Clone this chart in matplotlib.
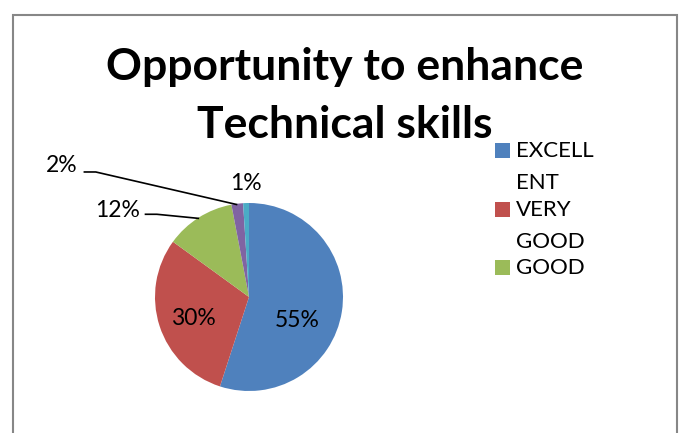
import numpy as np
import matplotlib.pyplot as plt
from matplotlib.patches import Rectangle

plt.rcParams['font.family'] = ['Lato', 'DejaVu Sans']

# data
categories = ['EXCELLENT', 'VERY GOOD', 'GOOD', 'AVERAGE', 'POOR']
percent = [55, 30, 12, 2, 1]
colors = ['#4F81BD', '#C0504D', '#9BBB59', '#8064A2', '#4BACC6']
legend_lines = [['EXCELL', 'ENT'], ['VERY', 'GOOD'], ['GOOD']]

W, H = 680, 433
fig = plt.figure(figsize=(W / 100, H / 100), dpi=100)

# outer chart border (bottom edge is cut off)
fig.patches.append(Rectangle((13 / W, -0.05), (677 - 13) / W, (H - 15) / H + 0.05,
                             transform=fig.transFigure, fill=False,
                             edgecolor='#878787', linewidth=1.5))

# pie axes, center (249, 297) px, radius 94 px
cx, cy, r = 249, 297, 94
ax = fig.add_axes([(cx - r) / W, (H - cy - r) / H, 2 * r / W, 2 * r / H])
wedges, _ = ax.pie(percent, colors=colors, startangle=90, counterclock=False,
                   radius=1, wedgeprops=dict(linewidth=0))
ax.set_xlim(-1, 1)
ax.set_ylim(-1, 1)
ax.set_aspect('equal')
ax.axis('off')

# data labels
fs = 16.5
ax.text(0.51, -0.25, f'{percent[0]}%', fontsize=fs, ha='center', va='center')
ax.text(-0.59, -0.23, f'{percent[1]}%', fontsize=fs, ha='center', va='center')
ax.text(-0.03, 1.21, f'{percent[4]}%', fontsize=fs, ha='center', va='center')

# labels with leader lines
for i, (tx, ty) in [(2, (-1.40, 0.92)), (3, (-1.99, 1.40))]:
    w = wedges[i]
    mid = np.deg2rad((w.theta1 + w.theta2) / 2)
    ex, ey = np.cos(mid) * 0.99, np.sin(mid) * 0.99
    ax.text(tx, ty, f'{percent[i]}%', fontsize=fs, ha='center', va='center')
    x0 = tx + 0.29 if i == 2 else tx + 0.23
    y0 = ty - 0.04 if i == 2 else ty - 0.07
    ax.plot([x0, x0 + 0.13, ex], [y0, y0, ey], color='black', lw=1.2,
            clip_on=False, solid_capstyle='butt')

# title
fig.text(345 / W, 1 - 67 / H, 'Opportunity to enhance', fontsize=32,
         fontweight='bold', ha='center', va='center')
fig.text(345 / W, 1 - 125 / H, 'Technical skills', fontsize=32,
         fontweight='bold', ha='center', va='center')

# legend (only first entries visible, text wrapped)
lfs = 16
ys = [151, 210, 268]
for k, lines in enumerate(legend_lines):
    y = ys[k]
    fig.patches.append(Rectangle((495 / W, 1 - (y + 7) / H), 15 / W, 15 / H,
                                 transform=fig.transFigure,
                                 facecolor=colors[k], edgecolor='none'))
    fig.text(516 / W, 1 - y / H, lines[0], fontsize=lfs, ha='left', va='center')
    if len(lines) > 1:
        fig.text(516 / W, 1 - (y + 32) / H, lines[1], fontsize=lfs,
                 ha='left', va='center')

fig.savefig('out.png', dpi=100)
